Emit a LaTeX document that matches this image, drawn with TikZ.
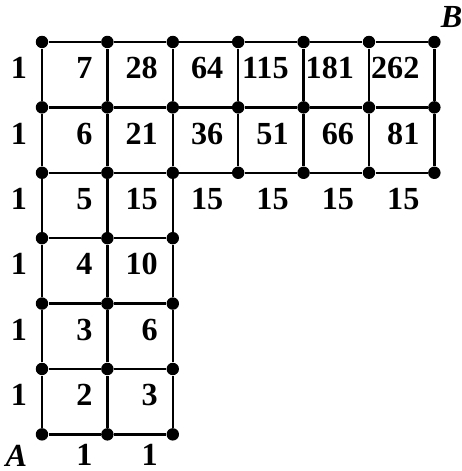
\documentclass[tikz,border=0pt]{standalone}
\usepackage{fontspec}
\setmainfont{Liberation Serif}
\usetikzlibrary{positioning}

\tikzset{
  gridline/.style={line width=1.1pt, black},
  vdot/.style={circle, fill=black, inner sep=0pt, minimum size=0.19cm},
  cnt/.style={font=\fontsize{14}{16}\selectfont\bfseries, inner sep=0pt,
    text height=9.2pt},
  endpt/.style={font=\fontsize{14}{16}\selectfont\bfseries\itshape, inner sep=0pt},
}

\begin{document}
\begin{tikzpicture}
        \useasboundingbox (-0.642,-0.56) rectangle (6.422,6.642);

        % ── VERTICES ───────────────────────────────
        \foreach \x in {0,1,2} {
          \foreach \y in {0,...,6} {
            \node[vdot] (v\x\y) at (\x,\y) {};
          }
        }
        \foreach \x in {3,...,6} {
          \foreach \y in {4,5,6} {
            \node[vdot] (v\x\y) at (\x,\y) {};
          }
        }

        % ── GRID LINES ─────────────────────────────
        \foreach \y in {0,...,3} {
          \draw[gridline] (v0\y) -- (v1\y) -- (v2\y);
        }
        \foreach \y in {4,5,6} {
          \draw[gridline] (v0\y) -- (v1\y) -- (v2\y) -- (v3\y)
            -- (v4\y) -- (v5\y) -- (v6\y);
        }
        \foreach \x in {0,1,2} {
          \draw[gridline] (v\x0) -- (v\x1) -- (v\x2) -- (v\x3)
            -- (v\x4) -- (v\x5) -- (v\x6);
        }
        \foreach \x in {3,...,6} {
          \draw[gridline] (v\x4) -- (v\x5) -- (v\x6);
        }

        % ── PATH COUNTS ────────────────────────────
        \foreach \x/\y/\n in {0/1/1, 1/1/2, 2/1/3,
                              0/2/1, 1/2/3, 2/2/6,
                              0/3/1, 1/3/4, 2/3/10,
                              0/4/1, 1/4/5, 2/4/15, 3/4/15, 4/4/15, 5/4/15, 6/4/15,
                              0/5/1, 1/5/6, 2/5/21, 3/5/36, 4/5/51, 5/5/66, 6/5/81,
                              0/6/1, 1/6/7, 2/6/28, 3/6/64, 4/6/115, 5/6/181, 6/6/262} {
          \node[cnt, below left=0.16cm and 0.15cm of v\x\y] (n\x\y) {\n};
        }
        \foreach \x in {1,2} {
          \node[cnt, below left=0.08cm and 0.15cm of v\x0] (n\x0) {1};
        }

        % ── END POINTS ─────────────────────────────
        \node[endpt, below left=0.08cm and 0.15cm of v00] (labA) {A};
        \node[endpt, above right=0.14cm and 0.02cm of v66] (labB) {B};
      \end{tikzpicture}
\end{document}
